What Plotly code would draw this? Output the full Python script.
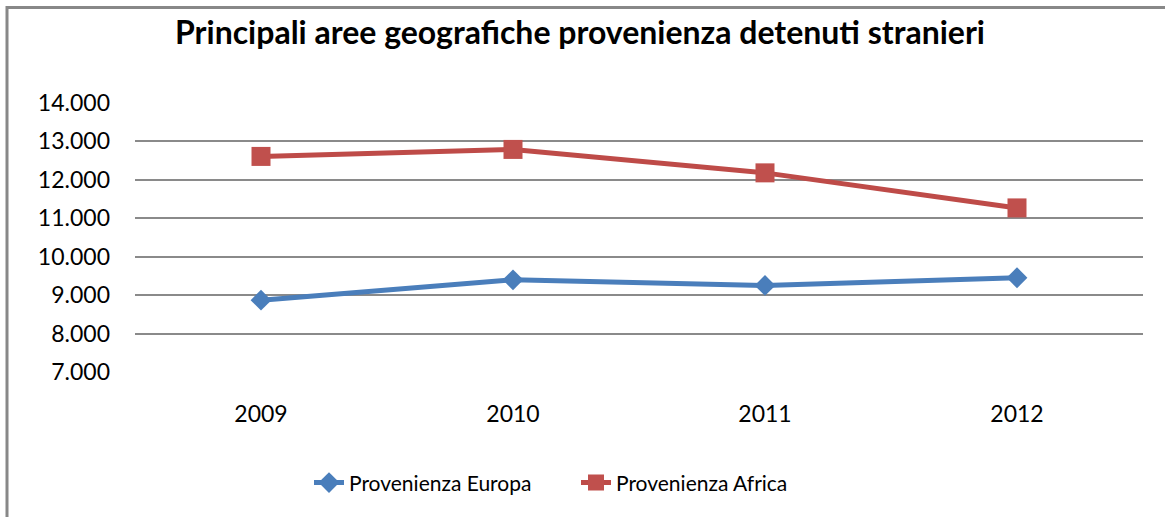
import plotly.graph_objects as go

years = ["2009", "2010", "2011", "2012"]
europa = [8870, 9398, 9252, 9452]
africa = [12610, 12792, 12182, 11270]
ytick_vals = [7000, 8000, 9000, 10000, 11000, 12000, 13000, 14000]

W, H = 1165, 517
L, R, T, B = 135, 1143, 102.7, 372.0
pw, ph = R - L, B - T

def px(x):
    return (x - L) / pw

def py(y):
    return (B - y) / ph

font = "Lato, 'Open Sans', sans-serif"

fig = go.Figure()
fig.add_trace(go.Scatter(
    x=years, y=europa, name="Provenienza Europa", mode="lines+markers",
    line=dict(color="#4A7EBB", width=5),
    marker=dict(symbol="diamond", size=16, color="#4A7EBB"),
    legend="legend",
))
fig.add_trace(go.Scatter(
    x=years, y=africa, name="Provenienza Africa", mode="lines+markers",
    line=dict(color="#BE4B48", width=5),
    marker=dict(symbol="square", size=19, color="#C0504D"),
    legend="legend2",
))

legend_common = dict(
    orientation="h", xanchor="left", y=py(483), yanchor="middle",
    font=dict(family=font, size=21, color="black"),
    bgcolor="rgba(0,0,0,0)",
)

fig.update_layout(
    width=W, height=H,
    margin=dict(l=L, r=W - R, t=T, b=H - B, pad=0),
    paper_bgcolor="white", plot_bgcolor="white",
    separators=",.",
    font=dict(family=font, size=23, color="black"),
    title=dict(
        text="<b>Principali aree geografiche provenienza detenuti stranieri</b>",
        x=580 / W, xref="container", xanchor="center",
        y=1 - 33 / H, yref="container", yanchor="middle",
        font=dict(family=font, size=32, color="black"),
    ),
    showlegend=True,
    legend=dict(x=px(309), **legend_common),
    legend2=dict(x=px(576), **legend_common),
    xaxis=dict(
        type="category", range=[-0.5, 3.5], showgrid=False, zeroline=False,
        showline=False, ticks="", ticklabelstandoff=26,
        tickfont=dict(family=font, size=23),
    ),
    yaxis=dict(
        range=[7000, 14000], tickvals=ytick_vals, tickformat=",d",
        showgrid=True, gridcolor="#8a8a8a", gridwidth=1.5,
        zeroline=False, showline=False, ticks="", ticklabelstandoff=24,
        tickfont=dict(family=font, size=23),
    ),
    shapes=[
        dict(type="line", xref="paper", yref="paper",
             x0=px(6), x1=px(W + 5), y0=py(7), y1=py(7),
             line=dict(color="#888888", width=3)),
        dict(type="line", xref="paper", yref="paper",
             x0=px(7), x1=px(7), y0=py(5.5), y1=py(H + 5),
             line=dict(color="#888888", width=3)),
    ],
)

fig.write_html(
    "out.html",
    config={"displayModeBar": False},
    post_script="document.body.style.margin='0';",
)
